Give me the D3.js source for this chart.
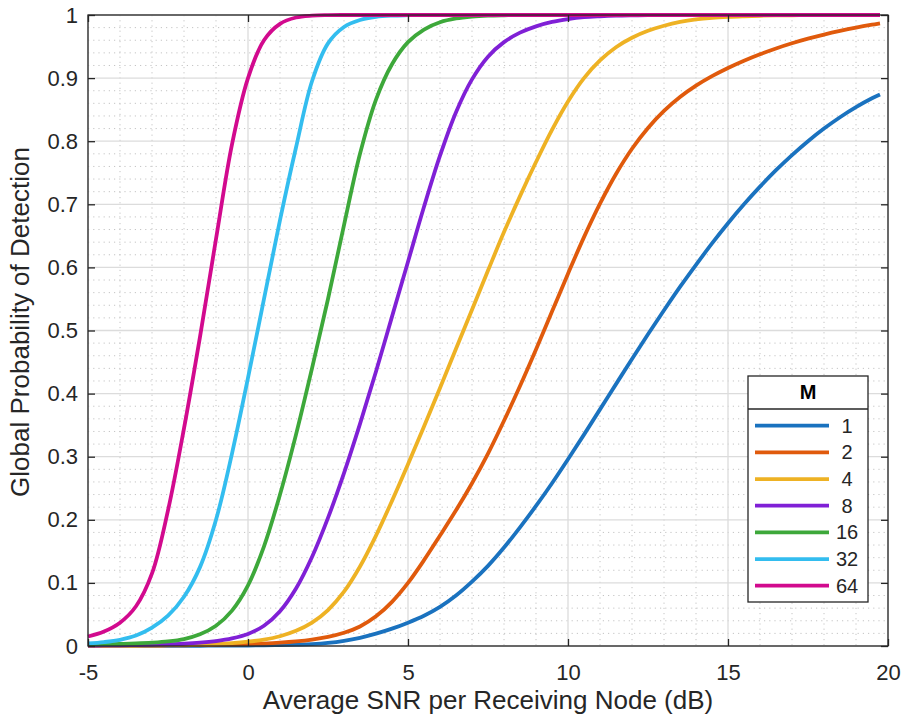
<!DOCTYPE html>
<html><head><meta charset="utf-8">
<script src="https://cdn.jsdelivr.net/npm/d3@7"></script>
<style>
html,body{margin:0;padding:0;background:#fff;}
text{font-family:"Liberation Sans",Arial,Helvetica,sans-serif;}
</style>
</head><body>
<svg id="chart" width="906" height="720"></svg>
<script>
// ---------- DATA ----------
const snr = [-5,-4.5,-4,-3.5,-3,-2.5,-2,-1.5,-1,-0.5,0,0.5,1,1.5,2,2.5,3,3.5,4,4.5,5,5.5,6,6.5,7,7.5,8,8.5,9,9.5,10,10.5,11,11.5,12,12.5,13,13.5,14,14.5,15,15.5,16,16.5,17,17.5,18,18.5,19,19.5,19.75];

const pdM1 = [0.0001,0.0001,0.00013,0.00016,0.0002,0.00025,0.0003,0.0004,0.0005,0.00065,0.0008,0.0011,0.0015,0.0021,0.003,0.0049,0.0082,0.013,0.0195,0.0275,0.037,0.048,0.062,0.080,0.102,0.127,0.156,0.188,0.222,0.258,0.296,0.335,0.375,0.415,0.455,0.494,0.532,0.569,0.604,0.638,0.670,0.700,0.728,0.754,0.778,0.800,0.820,0.838,0.854,0.868,0.874];
const pdM2 = [0.0003,0.0004,0.0005,0.0006,0.0007,0.0009,0.0011,0.0014,0.0018,0.0023,0.0029,0.0039,0.0053,0.0073,0.0102,0.0145,0.021,0.031,0.047,0.07,0.1,0.136,0.175,0.215,0.258,0.305,0.357,0.412,0.47,0.53,0.59,0.648,0.701,0.748,0.788,0.821,0.848,0.870,0.888,0.903,0.916,0.9275,0.9378,0.947,0.9552,0.9625,0.969,0.9748,0.98,0.9846,0.9867];
const pdM4 = [0.0004,0.0005,0.0006,0.0008,0.001,0.0013,0.0017,0.0023,0.0032,0.0046,0.0068,0.0102,0.0155,0.024,0.037,0.057,0.086,0.126,0.175,0.23,0.288,0.348,0.409,0.471,0.533,0.595,0.656,0.713,0.767,0.818,0.863,0.9,0.928,0.949,0.964,0.975,0.983,0.989,0.993,0.9955,0.997,0.998,0.9988,0.9993,0.9996,0.9998,0.9999,1,1,1,1];
const pdM8 = [0.0007,0.0009,0.0011,0.0014,0.0019,0.0026,0.0036,0.0052,0.0078,0.012,0.019,0.032,0.055,0.091,0.141,0.203,0.274,0.352,0.435,0.522,0.609,0.696,0.777,0.846,0.898,0.934,0.957,0.972,0.982,0.989,0.9935,0.9965,0.998,0.999,0.9995,0.9998,1,1,1,1,1,1,1,1,1,1,1,1,1,1,1];
const pdM16 = [0.0023,0.0027,0.0032,0.004,0.0052,0.0072,0.011,0.0185,0.032,0.056,0.096,0.158,0.24,0.335,0.44,0.55,0.667,0.78,0.866,0.922,0.957,0.977,0.9885,0.9945,0.9975,0.999,0.9996,0.9999,1,1,1,1,1,1,1,1,1,1,1,1,1,1,1,1,1,1,1,1,1,1,1];
const pdM32 = [0.004,0.0062,0.0098,0.0165,0.029,0.048,0.078,0.125,0.2,0.305,0.425,0.55,0.675,0.79,0.895,0.955,0.981,0.992,0.997,0.999,0.9997,1,1,1,1,1,1,1,1,1,1,1,1,1,1,1,1,1,1,1,1,1,1,1,1,1,1,1,1,1,1];
const pdM64 = [0.015,0.023,0.037,0.063,0.115,0.215,0.345,0.49,0.645,0.795,0.9,0.96,0.986,0.996,0.999,0.9998,1,1,1,1,1,1,1,1,1,1,1,1,1,1,1,1,1,1,1,1,1,1,1,1,1,1,1,1,1,1,1,1,1,1,1];

const seriesLabels = ["1","2","4","8","16","32","64"];
const seriesColors = ["#1a72bf","#e05a0c","#eeb224","#8020d6","#3da83a","#33bdef","#d20a8e"];
const xTicks = [-5,0,5,10,15,20];
const xTickLabels = ["-5","0","5","10","15","20"];
const yTicks = [0,0.1,0.2,0.3,0.4,0.5,0.6,0.7,0.8,0.9,1];
const yTickLabels = ["0","0.1","0.2","0.3","0.4","0.5","0.6","0.7","0.8","0.9","1"];
const xLabel = "Average SNR per Receiving Node (dB)";
const yLabel = "Global Probability of Detection";
const legendTitle = "M";

// ---------- CHART ----------
const allSeries = [pdM1,pdM2,pdM4,pdM8,pdM16,pdM32,pdM64];
const svg = d3.select("#chart");
const L = 88, R = 888, T = 15, B = 646;
const x = d3.scaleLinear().domain([-5,20]).range([L,R]);
const y = d3.scaleLinear().domain([0,1]).range([B,T]);
const axisCol = "#262626";

// minor grid
const g = svg.append("g");
const xMinor = d3.range(-5,20.001,1).filter(v => v % 5 !== 0);
const yMinor = d3.range(0,1.0001,0.02).map(v=>+v.toFixed(2)).filter(v => Math.abs(v*10 - Math.round(v*10))>1e-6);
g.selectAll(".xm").data(xMinor).enter().append("line")
  .attr("x1",d=>x(d)).attr("x2",d=>x(d)).attr("y1",T).attr("y2",B)
  .attr("stroke","#c4c4c4").attr("stroke-width",1).attr("stroke-dasharray","1.2,4");
g.selectAll(".ym").data(yMinor).enter().append("line")
  .attr("y1",d=>y(d)).attr("y2",d=>y(d)).attr("x1",L).attr("x2",R)
  .attr("stroke","#c4c4c4").attr("stroke-width",1).attr("stroke-dasharray","1.2,4");
// major grid
g.selectAll(".xg").data(xTicks).enter().append("line")
  .attr("x1",d=>x(d)).attr("x2",d=>x(d)).attr("y1",T).attr("y2",B)
  .attr("stroke","#dcdcdc").attr("stroke-width",1.3);
g.selectAll(".yg").data(yTicks).enter().append("line")
  .attr("y1",d=>y(d)).attr("y2",d=>y(d)).attr("x1",L).attr("x2",R)
  .attr("stroke","#dcdcdc").attr("stroke-width",1.3);

// curves
const line = d3.line().x((d,i)=>x(snr[i])).y(d=>y(d)).curve(d3.curveCatmullRom.alpha(0.5));
svg.append("g").selectAll("path").data(allSeries).enter().append("path")
  .attr("d",d=>line(d)).attr("fill","none")
  .attr("stroke",(d,i)=>seriesColors[i]).attr("stroke-width",3.8)
  .attr("stroke-linejoin","round");

// axes (inward ticks, box)
const ax = svg.append("g").attr("transform",`translate(0,${B})`)
  .call(d3.axisBottom(x).tickValues(xTicks).tickSizeInner(-7).tickSizeOuter(0).tickPadding(18)
    .tickFormat(d=>xTickLabels[xTicks.indexOf(d)]));
const ay = svg.append("g").attr("transform",`translate(${L},0)`)
  .call(d3.axisLeft(y).tickValues(yTicks).tickSizeInner(-7).tickSizeOuter(0).tickPadding(10)
    .tickFormat(d=>yTickLabels[yTicks.indexOf(d)]));
const axTop = svg.append("g").attr("transform",`translate(0,${T})`)
  .call(d3.axisTop(x).tickValues(xTicks).tickSizeInner(-7).tickSizeOuter(0).tickFormat(""));
const ayR = svg.append("g").attr("transform",`translate(${R},0)`)
  .call(d3.axisRight(y).tickValues(yTicks).tickSizeInner(-7).tickSizeOuter(0).tickFormat(""));
[ax,ay,axTop,ayR].forEach(a=>{
  a.select(".domain").remove();
  a.selectAll("line").attr("stroke",axisCol).attr("stroke-width",1.3);
  a.selectAll("text").attr("fill",axisCol).style("font-size","22px").attr("font-family",null);
});
ax.selectAll("text").attr("dy","0.71em");
svg.append("rect").attr("x",L).attr("y",T).attr("width",R-L).attr("height",B-T)
  .attr("fill","none").attr("stroke",axisCol).attr("stroke-width",1.3);

// labels
svg.append("text").attr("x",(L+R)/2).attr("y",709).attr("text-anchor","middle")
  .attr("fill",axisCol).style("font-size","26px").text(xLabel);
svg.append("text").attr("transform",`translate(29,322) rotate(-90)`).attr("text-anchor","middle")
  .attr("fill",axisCol).style("font-size","26px").text(yLabel);

// legend
const lg = svg.append("g");
const lx0 = 748, lx1 = 868, ly0 = 376, ly1 = 602, lsep = 409;
lg.append("rect").attr("x",lx0).attr("y",ly0).attr("width",lx1-lx0).attr("height",ly1-ly0)
  .attr("fill","#fff").attr("stroke",axisCol).attr("stroke-width",1.3);
lg.append("line").attr("x1",lx0).attr("x2",lx1).attr("y1",lsep).attr("y2",lsep)
  .attr("stroke",axisCol).attr("stroke-width",1.3);
lg.append("text").attr("x",(lx0+lx1)/2).attr("y",399).attr("text-anchor","middle")
  .attr("fill","#000").style("font-size","20px").style("font-weight","bold").text(legendTitle);
const rowY = d3.scaleLinear().domain([0,6]).range([425.7,585.7]);
seriesLabels.forEach((lab,i)=>{
  lg.append("line").attr("x1",755).attr("x2",829).attr("y1",rowY(i)).attr("y2",rowY(i))
    .attr("stroke",seriesColors[i]).attr("stroke-width",3.8);
  lg.append("text").attr("x",847).attr("y",rowY(i)).attr("dy","0.35em").attr("text-anchor","middle")
    .attr("fill",axisCol).style("font-size","20px").text(lab);
});
</script>
</body></html>
